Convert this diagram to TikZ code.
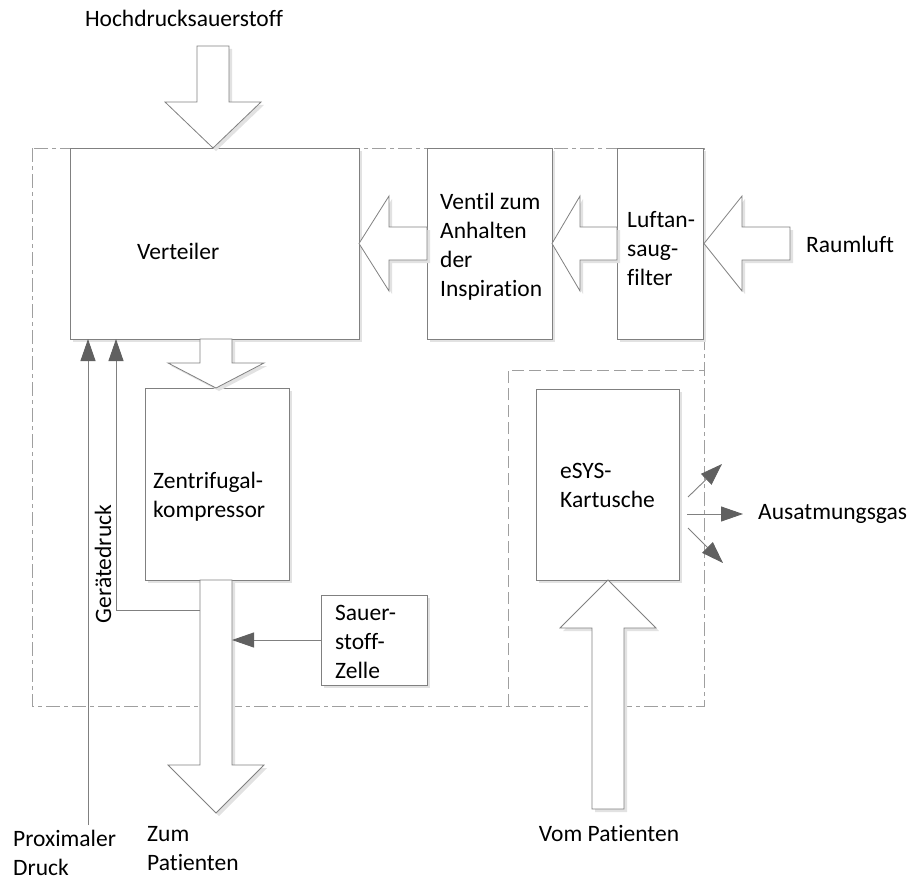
\documentclass[tikz,border=0pt]{standalone}
\usepackage{fontspec}
\setmainfont[Ligatures=NoCommon]{Carlito}
\usetikzlibrary{arrows.meta,shadows}
\definecolor{lncol}{HTML}{808080}
\definecolor{headcol}{HTML}{606060}
\definecolor{shcol}{HTML}{E2E2E2}
\begin{document}
\begin{tikzpicture}[x=1pt,y=-1pt,
  font=\fontsize{23.5}{29}\selectfont,
  box/.style={draw=lncol, line width=0.8pt, fill=white, inner sep=0pt,
    drop shadow={shadow xshift=3pt, shadow yshift=-3pt, fill=shcol, opacity=1}},
  txt/.style={inner sep=0pt, align=left, anchor=west},
  barrow/.style={draw=lncol, line width=0.8pt, fill=white, line join=miter,
    drop shadow={shadow xshift=3pt, shadow yshift=-3pt, fill=shcol, opacity=1}},
  thin/.style={draw=lncol, line width=0.9pt,
    -{Triangle[length=22pt,width=15pt,fill=headcol,color=headcol]}},
  bound/.style={draw=gray!75, line width=0.8pt, dash pattern=on 14pt off 4pt on 4pt off 4pt},
  inbound/.style={draw=gray!75, line width=0.8pt, dash pattern=on 12pt off 5pt}
]
\useasboundingbox (0,0) rectangle (917,880);
% boundaries
\draw[bound] (32,148) rectangle (704,706);
\draw[inbound] (508,706) -- (508,370) -- (704,370);

% boxes
\node[box, minimum width=289pt, minimum height=191pt] (vert) at (214.5,243.5) {};
\node[box, minimum width=125pt, minimum height=191pt] (vent) at (489.5,243.5) {};
\node[box, minimum width=86pt, minimum height=191pt] (luft) at (660,243.5) {};
\node[box, minimum width=144pt, minimum height=192pt] (zent) at (217,484) {};
\node[box, minimum width=106pt, minimum height=90pt] (sauer) at (374,640) {};
\node[box, minimum width=143pt, minimum height=191pt] (esys) at (607.5,484.5) {};

% box texts
\node[txt] (tvert) at (137,251) {Verteiler};
\node[txt] (tvent) at (440,247) {Ventil zum\\Anhalten\\der\\Inspiration};
\node[txt] (tluft) at (627,249) {Luftan-\\saug-\\filter};
\node[txt] (tzent) at (153,497) {Zentrifugal-\\kompressor};
\node[txt] (tsauer) at (335,641.5) {Sauer-\\stoff-\\Zelle};
\node[txt] (tesys) at (560,485.5) {eSYS-\\Kartusche};

% outer labels
\node[inner sep=0pt] (hoch) at (184,18) {Hochdrucksauerstoff};
\node[txt] (raum) at (806,244) {Raumluft};
\node[txt] (ausat) at (758,514) {Ausatmungsgas};
\node[inner sep=0pt] (vom) at (609,833) {Vom Patienten};
\node[txt] (prox) at (13,853) {Proximaler\\Druck};
\node[txt] (zum) at (147,849) {Zum\\Patienten};
\node[inner sep=0pt, rotate=90] (geraet) at (103,564) {Gerätedruck};

% block arrows
\draw[barrow] (197,46) -- (229,46) -- (229,102) -- (261,102) -- (213,148) -- (165,102) -- (197,102) -- cycle;
\draw[barrow] (427,227) -- (389,227) -- (389,196) -- (359,243.5) -- (389,291) -- (389,260) -- (427,260) -- cycle;
\draw[barrow] (617,227) -- (580,227) -- (580,196) -- (552,243.5) -- (580,291) -- (580,260) -- (617,260) -- cycle;
\draw[barrow] (790,227) -- (742,227) -- (742,196) -- (704,243.5) -- (742,291) -- (742,260) -- (790,260) -- cycle;
\draw[barrow] (200,339) -- (232,339) -- (232,363) -- (264,363) -- (216,388) -- (168,363) -- (200,363) -- cycle;
\draw[barrow] (200,580) -- (232,580) -- (232,765) -- (264,765) -- (216,813) -- (168,765) -- (200,765) -- cycle;
\draw[barrow] (592,809) -- (592,628) -- (560,628) -- (608,580) -- (656,628) -- (624,628) -- (624,809) -- cycle;

% thin connectors
\coordinate (shaftR) at (232,640);
\coordinate (shaftL) at (200,610);
\draw[thin] (sauer.west |- shaftR) -- (shaftR);
\draw[thin] (shaftL) -- (116,610) -- (116,339);
\coordinate (proxtop) at (88,825);
\draw[thin] (proxtop) -- (88,339);
\coordinate (ea1) at (688,497);
\coordinate (ea2) at (687,514);
\coordinate (ea3) at (688,528);
\coordinate (eb1) at (722,464);
\coordinate (eb2) at (743,514);
\coordinate (eb3) at (723,563);
\draw[thin] (ea1) -- (eb1);
\draw[thin] (ea2) -- (eb2);
\draw[thin] (ea3) -- (eb3);
\end{tikzpicture}
\end{document}
